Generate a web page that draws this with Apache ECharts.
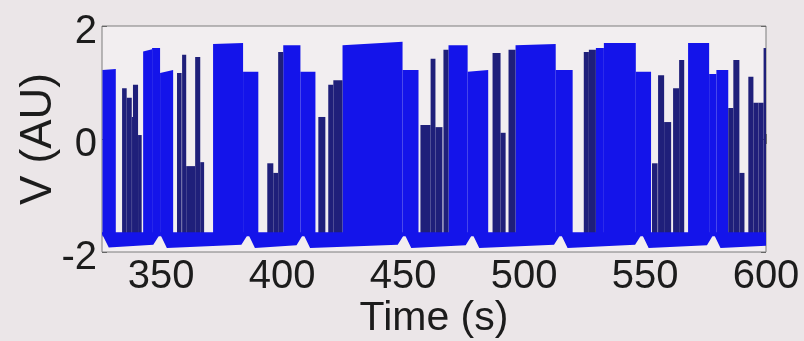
<!DOCTYPE html>
<html>
<head>
<meta charset="utf-8">
<script src="https://cdn.jsdelivr.net/npm/echarts@6/dist/echarts.min.js"></script>
<style>
html,body{margin:0;padding:0;background:#ebe6e8;}
#c{width:804px;height:341px;}
</style>
</head>
<body>
<div id="c"></div>
<script>
// ---- data ----
const timeTicks = [350, 400, 450, 500, 550, 600];
const voltTicks = [-2, 0, 2];

// dense spiking stretches (blue): [tStart, tEnd, topAtStart, topAtEnd]
const blueBursts = [
  [325.8, 331.3, 1.22, 1.24],
  [342.6, 346.3, 1.55, 1.59],
  [346.3, 349.6, 1.61, 1.61],
  [349.6, 355.0, 1.17, 1.22],
  [371.5, 383.9, 1.68, 1.70],
  [383.9, 390.2, 1.19, 1.19],
  [400.5, 407.6, 1.66, 1.66],
  [407.6, 413.8, 1.19, 1.19],
  [425.0, 449.8, 1.66, 1.72],
  [449.8, 456.4, 1.22, 1.22],
  [468.8, 476.7, 1.66, 1.66],
  [476.7, 485.2, 1.19, 1.22],
  [496.5, 513.1, 1.66, 1.68],
  [513.1, 520.1, 1.22, 1.22],
  [529.7, 533.0, 1.61, 1.61],
  [533.0, 546.2, 1.70, 1.70],
  [546.2, 552.5, 1.19, 1.19],
  [567.8, 576.5, 1.70, 1.70],
  [576.5, 579.5, 1.15, 1.15],
  [579.5, 584.4, 1.22, 1.22]
];

// sparse single spikes (dark): [tStart, tEnd, top]
const sparseSpikes = [
  [333.9, 335.8, 0.90],
  [335.8, 337.9, 0.73],
  [337.9, 338.4, 0.39],
  [338.4, 340.5, 0.96],
  [340.5, 342.0, 0.07],
  [356.6, 358.5, 1.17],
  [358.7, 360.4, 1.49],
  [360.4, 364.1, -0.48],
  [364.1, 366.2, 1.45],
  [366.2, 367.8, -0.41],
  [393.9, 396.4, -0.43],
  [396.4, 398.4, -0.60],
  [398.4, 400.5, 1.54],
  [415.0, 417.9, 0.39],
  [419.1, 421.2, 0.96],
  [421.2, 425.0, 1.04],
  [457.2, 461.4, 0.25],
  [461.4, 463.4, 1.42],
  [463.4, 466.3, 0.21],
  [466.7, 468.8, 1.58],
  [487.0, 490.3, 1.52],
  [490.3, 492.4, 0.11],
  [493.6, 496.5, 1.58],
  [524.7, 526.8, 1.54],
  [526.8, 529.7, 1.58],
  [552.9, 555.2, -0.43],
  [555.4, 557.9, 1.13],
  [557.9, 560.8, 0.30],
  [561.6, 564.1, 0.90],
  [564.1, 566.2, 1.40],
  [584.4, 586.5, 0.55],
  [586.5, 589.0, 1.40],
  [589.0, 591.1, -0.60],
  [592.7, 594.8, 1.10],
  [594.8, 596.9, 0.64],
  [596.9, 599.0, 0.64],
  [599.0, 600.0, 1.61]
];

// lowest excursion of the trace (spike troughs / slow recovery): [t, V]
const troughTrace = [
  [325.6, -1.68], [328.4, -1.92],
  [346.8, -1.87], [349.6, -1.68], [352.4, -1.93],
  [383.2, -1.87], [386.0, -1.68], [388.8, -1.93],
  [406.0, -1.88], [408.8, -1.68], [411.6, -1.93],
  [447.8, -1.87], [450.6, -1.68], [453.4, -1.93],
  [475.9, -1.88], [478.7, -1.68], [481.5, -1.93],
  [512.4, -1.87], [515.2, -1.68], [518.0, -1.93],
  [545.9, -1.87], [548.7, -1.68], [551.5, -1.93],
  [575.6, -1.88], [578.4, -1.68], [581.2, -1.93],
  [600.0, -1.89]
];
// upper edge of the trough band
const troughTop = -1.65;

// ---- drawing ----
const BLUE = '#1414ea';
const DARK = '#1f1f7a';
const FLOOR = -1.72;
const FONT = "'Liberation Sans', Arial, sans-serif";

const chart = echarts.init(document.getElementById('c'));

function blockItem(fill, hasSlope) {
  return function (params, api) {
    const t0 = api.value(0), t1 = api.value(1);
    const a = api.value(2);
    const b = hasSlope ? api.value(3) : a;
    const pts = [
      api.coord([t0, FLOOR]),
      api.coord([t0, a]),
      api.coord([t1, b]),
      api.coord([t1, FLOOR])
    ];
    return { type: 'polygon', shape: { points: pts }, style: { fill: fill } };
  };
}

function bandItem(params, api) {
  if (params.dataIndex !== 0) return null;
  const pts = troughTrace.map(p => api.coord(p));
  const last = troughTrace[troughTrace.length - 1][0];
  const first = troughTrace[0][0];
  pts.push(api.coord([last, troughTop]));
  pts.push(api.coord([first, troughTop]));
  return { type: 'polygon', shape: { points: pts }, style: { fill: BLUE } };
}

chart.setOption({
  backgroundColor: '#ebe6e8',
  animation: false,
  grid: {
    left: 102, right: 38, top: 26, bottom: 89,
    outerBoundsMode: 'none', containLabel: false,
    show: true, backgroundColor: '#f2eef0', borderColor: '#7c7c7c', borderWidth: 1
  },
  xAxis: [{
    type: 'value', min: 325.6, max: 600,
    name: 'Time (s)', nameLocation: 'middle', nameGap: 46, nameMoveOverlap: false,
    nameTextStyle: { fontFamily: FONT, fontSize: 41, color: '#1c1c1c' },
    axisLine: { show: false },
    splitLine: { show: false },
    axisTick: { show: true, inside: true, length: 5, customValues: timeTicks, lineStyle: { color: '#666' } },
    axisLabel: { customValues: timeTicks, fontFamily: FONT, fontSize: 40, color: '#1c1c1c', margin: 5 }
  }, {
    type: 'value', min: 325.6, max: 600, position: 'top',
    axisLine: { show: false }, splitLine: { show: false },
    axisTick: { show: true, inside: true, length: 5, customValues: timeTicks, lineStyle: { color: '#666' } },
    axisLabel: { show: false }
  }],
  yAxis: [{
    type: 'value', min: -2, max: 2, interval: 2,
    name: 'V (AU)', nameLocation: 'middle', nameGap: 41, nameRotate: 90, nameMoveOverlap: false,
    nameTextStyle: { fontFamily: FONT, fontSize: 44, color: '#1c1c1c' },
    axisLine: { show: false }, splitLine: { show: false },
    axisTick: { show: true, inside: true, length: 5, lineStyle: { color: '#666' } },
    axisLabel: { fontFamily: FONT, fontSize: 40, color: '#1c1c1c', margin: 5, verticalAlign: 'top', lineHeight: 12 }
  }, {
    type: 'value', min: -2, max: 2, interval: 2, position: 'right',
    axisLine: { show: false }, splitLine: { show: false },
    axisTick: { show: true, inside: true, length: 5, lineStyle: { color: '#666' } },
    axisLabel: { show: false }
  }],
  series: [{
    type: 'custom', xAxisIndex: 0, yAxisIndex: 0, clip: true,
    renderItem: blockItem(BLUE, true),
    encode: { x: [0, 1], y: [2, 3] },
    data: blueBursts, z: 2
  }, {
    type: 'custom', xAxisIndex: 0, yAxisIndex: 0, clip: true,
    renderItem: blockItem(DARK, false),
    encode: { x: [0, 1], y: [2] },
    data: sparseSpikes, z: 3
  }, {
    type: 'custom', xAxisIndex: 0, yAxisIndex: 0, clip: true,
    renderItem: bandItem,
    encode: { x: 0, y: 1 },
    data: troughTrace, z: 4
  }]
});
</script>
</body>
</html>
